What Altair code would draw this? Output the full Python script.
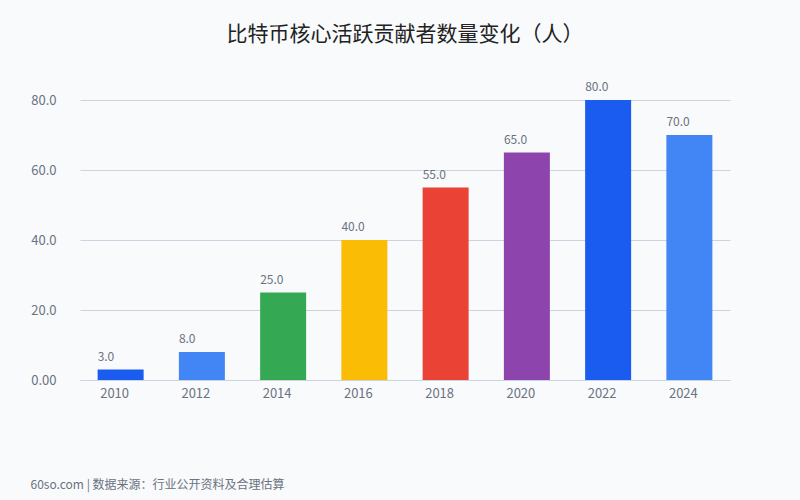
import altair as alt
import pandas as pd

years = ["2010", "2012", "2014", "2016", "2018", "2020", "2022", "2024"]
values = [3, 8, 25, 40, 55, 65, 80, 70]
colors = ["#1a5cf0", "#4285f4", "#34a853", "#fbbc05", "#ea4335", "#8e44ad", "#1a5cf0", "#4285f4"]

df = pd.DataFrame({"year": years, "value": values, "color": colors})

FONT = "Noto Sans CJK SC"
GRAY = "#6b7280"

x = alt.X(
    "year:N",
    sort=years,
    scale=alt.Scale(paddingInner=0, paddingOuter=0),
    axis=alt.Axis(
        title="60so.com | 数据来源：行业公开资料及合理估算",
        titleX=-50, titleY=99, titleAnchor="start", titleAlign="left",
        titleFontSize=12, titleFontWeight="normal", titleColor=GRAY, titleFont=FONT,
        labelAngle=0, labelFontSize=13, labelColor=GRAY, labelFont=FONT, labelPadding=7,
        labelOffset=-6,
        ticks=False, domain=True, domainColor="#cbd5e1", grid=False,
    ),
)

y = alt.Y(
    "value:Q",
    scale=alt.Scale(domain=[0, 80], nice=False),
    axis=alt.Axis(
        title=None, values=[0, 20, 40, 60, 80],
        labelExpr="datum.value == 0 ? '0.00' : format(datum.value, '.1f')",
        labelFontSize=13, labelColor=GRAY, labelFont=FONT, labelPadding=24,
        ticks=False, domain=False, grid=True, gridColor="#cbd5e1",
    ),
)

bars = alt.Chart(df).mark_bar(size=46).encode(
    x=x, y=y, color=alt.Color("color:N", scale=None)
)

labels = alt.Chart(df).mark_text(
    align="left", baseline="alphabetic", dx=-23, dy=-9, fontSize=12, color=GRAY, font=FONT
).encode(
    x=alt.X("year:N", sort=years),
    y="value:Q",
    text=alt.Text("value:Q", format=".1f"),
)

chart = alt.layer(bars, labels).properties(
    width=650,
    height=280,
    autosize=alt.AutoSizeParams(type="none"),
    padding={"left": 80, "top": 100, "right": 70, "bottom": 120},
    background="#f8fafc",
    title=alt.TitleParams(
        "比特币核心活跃贡献者数量变化（人）",
        anchor="middle", dx=0, offset=36, fontSize=21, fontWeight="normal",
        color="#222222", font=FONT,
    ),
).configure_view(stroke=None)

chart.save("out.html", embed_options={"renderer": "svg", "actions": False})
